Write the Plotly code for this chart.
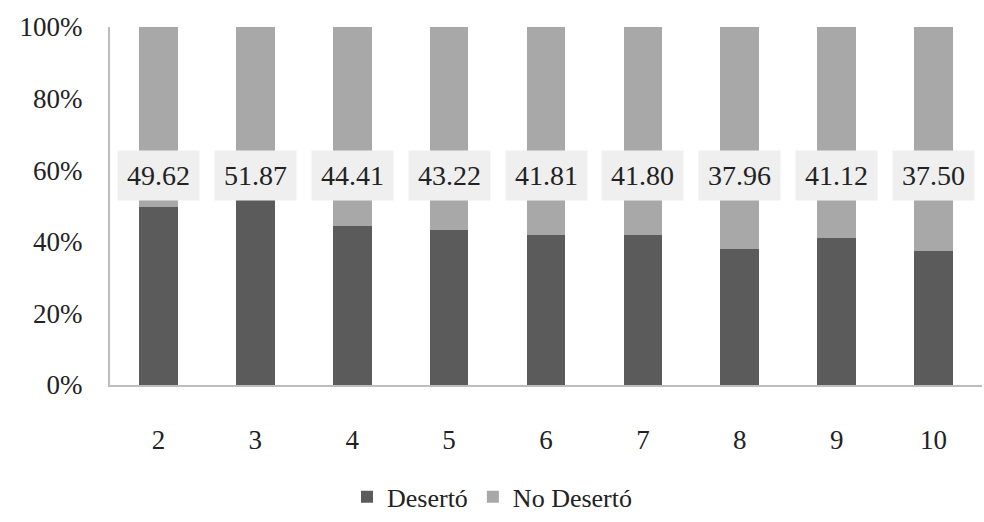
import plotly.graph_objects as go

categories = ["2", "3", "4", "5", "6", "7", "8", "9", "10"]
deserto = [49.62, 51.87, 44.41, 43.22, 41.81, 41.80, 37.96, 41.12, 37.50]
no_deserto = [round(100 - v, 2) for v in deserto]
label_texts = ["49.62", "51.87", "44.41", "43.22", "41.81", "41.80", "37.96", "41.12", "37.50"]
y_ticks = [0, 20, 40, 60, 80, 100]
y_tick_labels = ["0%", "20%", "40%", "60%", "80%", "100%"]

FONT = "Liberation Serif, Times New Roman, serif"
TXT = "#222222"

fig = go.Figure()
fig.add_trace(go.Bar(x=categories, y=deserto, name="Desertó",
                     marker=dict(color="#5b5b5b", line=dict(width=0))))
fig.add_trace(go.Bar(x=categories, y=no_deserto, name="No Desertó",
                     marker=dict(color="#a8a8a8", line=dict(width=0))))

for i, t in enumerate(label_texts):
    fig.add_annotation(x=i, y=58.5, text=t, showarrow=False,
                       font=dict(family=FONT, size=28, color=TXT),
                       bgcolor="#efefef", borderpad=9)

fig.update_layout(
    barmode="stack",
    bargap=0.6,
    width=984, height=522,
    margin=dict(l=110, r=2, t=27, b=137),
    plot_bgcolor="white", paper_bgcolor="white",
    font=dict(family=FONT, size=27, color=TXT),
    showlegend=True,
    legend=dict(orientation="h", xref="container", yref="container",
                x=0.5, xanchor="center", y=0.048, yanchor="middle",
                font=dict(family=FONT, size=26, color=TXT),
                traceorder="normal"),
    xaxis=dict(type="category", showline=True, linecolor="#bdbdbd", linewidth=2,
               ticks="", showgrid=False, ticklabelstandoff=30,
               tickfont=dict(family=FONT, size=27, color=TXT)),
    yaxis=dict(range=[0, 100], tickmode="array", tickvals=y_ticks, ticktext=y_tick_labels,
               showline=True, linecolor="#bdbdbd", linewidth=2, ticks="",
               showgrid=False, zeroline=False, ticklabelstandoff=20,
               tickfont=dict(family=FONT, size=27, color=TXT)),
)

fig.write_html("out.html", config={"displayModeBar": False},
               post_script="document.body.style.margin='0px';")
